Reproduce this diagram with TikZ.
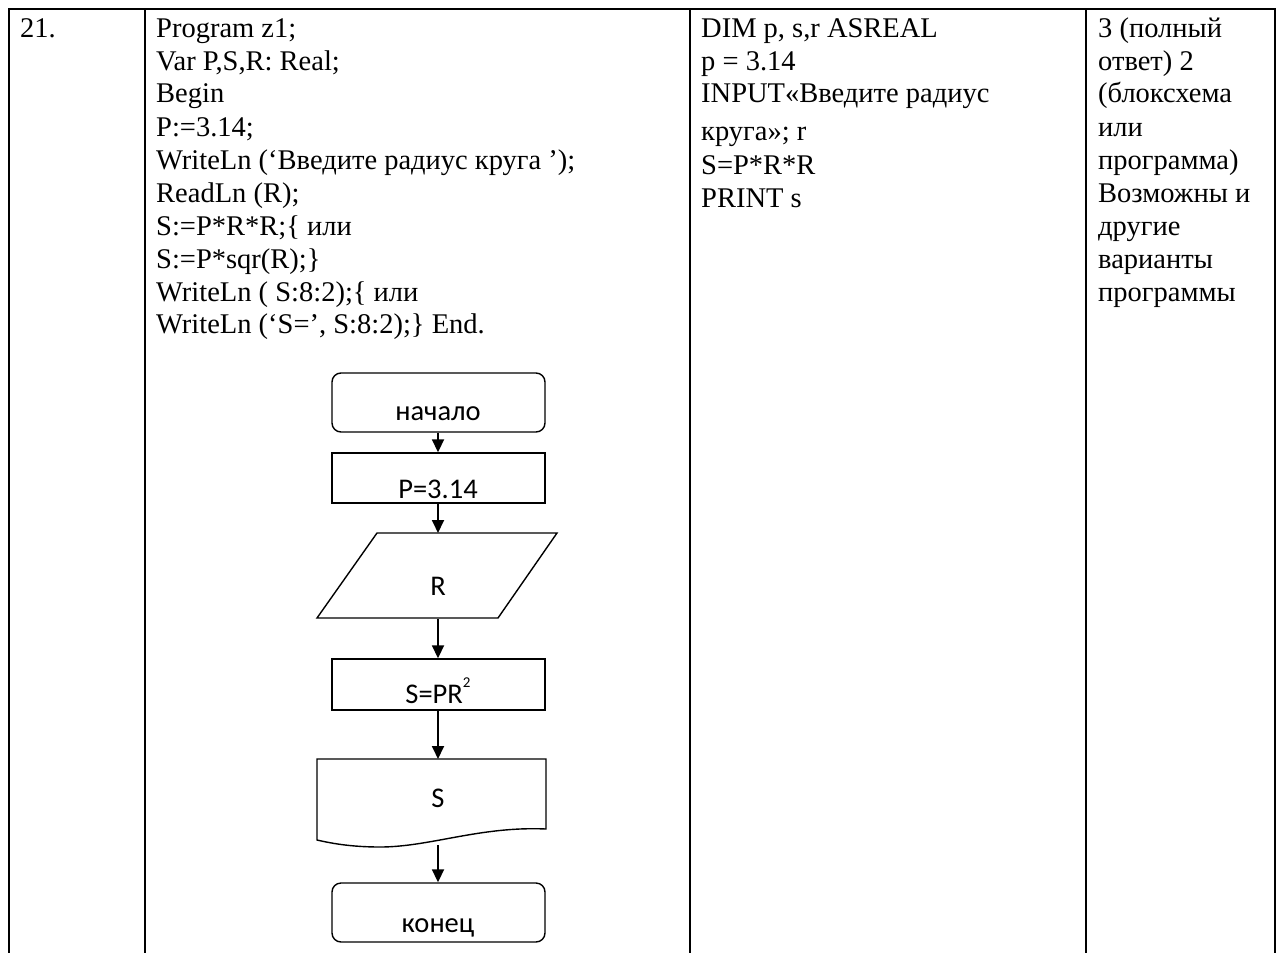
\documentclass[tikz,border=0pt]{standalone}
\usepackage{fontspec}
\setmainfont{Liberation Serif}
\newfontfamily\flowfont{Carlito}
\usetikzlibrary{arrows.meta}
\newcommand{\coltext}[2]{\parbox[t]{#1}{\fontsize{28.5}{33}\selectfont\lineskiplimit=-100pt\raggedright #2}}
\begin{document}
\begin{tikzpicture}[x=1pt,y=-1pt,
  gridline/.style={line width=2pt},
  body/.style={inner sep=0pt, anchor=base west},
  terminal/.style={draw, line width=1.4pt, rounded corners=9pt, minimum width=213pt, minimum height=59pt, inner sep=0pt},
  procbox/.style={draw, line width=1.4pt, minimum width=213pt, minimum height=50pt, inner sep=0pt},
  fshape/.style={draw, line width=1.4pt, line join=miter},
  ftext/.style={font=\flowfont\fontsize{28.5}{30}\selectfont, inner sep=0pt, anchor=base},
  flow/.style={line width=1.8pt, -{Triangle[length=13pt,width=12pt]}},
]
\useasboundingbox (0,0) rectangle (1282,953);
\fill[white] (0,0) rectangle (1282,953);
% table
\draw[gridline] (8,9) -- (1276,9);
\foreach \xx in {9,145,690,1086,1275} \draw[gridline] (\xx,9) -- (\xx,953);
% column texts
\node[body] (num) at (20,37) {\coltext{100pt}{21.}};
\node[body] (pascal) at (156,37) {\coltext{530pt}{Program z1;\\
Var P,S,R: Real;\\
Begin\\
P:=3.14;\\
WriteLn (‘Введите радиус круга ’);\\
ReadLn (R);\\
S:=P*R*R;\{ или\\
S:=P*sqr(R);\}\\
WriteLn ( S:8:2);\{ или\\
WriteLn (‘S=’, S:8:2);\} End.}};
\node[body] (basic) at (701,37) {\coltext{380pt}{DIM p, s,r ASREAL\\
p = 3.14\\
INPUT«Введите радиус\\[5pt]
круга»; r\\
S=P*R*R\\
PRINT s}};
\node[body] (score) at (1098,37) {\coltext{180pt}{3 (полный\\
ответ) 2\\
(блоксхема\\
или\\
программа)\\
Возможны и\\
другие\\
варианты\\
программы}};
% flowchart
\node[terminal] (start) at (438.5,402.5) {};
\node[ftext] (tstart) at (438,420) {начало};
\node[procbox] (pbox) at (438.5,478) {};
\node[ftext] (tp) at (438,498) {P=3.14};
\draw[fshape] (377,533) -- (557,533) -- (498,618) -- (317,618) -- cycle;
\coordinate (iotop) at (438,533);
\coordinate (iobot) at (438,619);
\node[ftext] (tr) at (438,595) {R};
\node[procbox, minimum height=51pt] (sbox) at (438.5,684.5) {};
\node[ftext] (ts) at (438,703) {S=PR\raisebox{0.55em}{\fontsize{15}{15}\selectfont 2}};
\draw[fshape] (317,759) -- (546,759) -- (546,829)
  .. controls (480,826) and (430,847) .. (380,847)
  .. controls (350,847) and (330,843) .. (317,840) -- cycle;
\coordinate (doctop) at (438,759);
\coordinate (docbot) at (438,845);
\node[ftext] (tdoc) at (438,807) {S};
\node[terminal] (stop) at (438.5,912.5) {};
\node[ftext] (tstop) at (438,932) {конец};
% connectors
\draw[flow] (start.south -| iotop) -- (pbox.north -| iotop);
\draw[flow] (pbox.south -| iotop) -- (iotop);
\draw[flow] (iobot) -- (sbox.north -| iobot);
\draw[flow] (sbox.south -| iobot) -- (doctop);
\draw[flow] (docbot) -- (stop.north -| docbot);
\end{tikzpicture}
\end{document}
